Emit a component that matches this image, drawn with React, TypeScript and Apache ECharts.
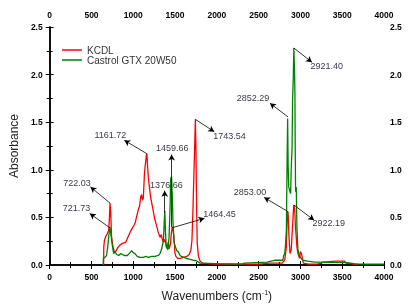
import React, { useEffect, useRef } from "react";
import * as echarts from "echarts";

const xMin = 0;
const xMax = 4000;
const xInterval = 500;
const yMin = 0;
const yMax = 2.5;
const yInterval = 0.5;

const seriesNames = ["KCDL", "Castrol GTX 20W50"];
const seriesColors = ["#ff0000", "#008000"];

const kcdlWavenumbers = [
  645, 647, 655, 670, 690, 705, 715, 722, 730, 740, 755, 765, 780, 795, 812, 830, 855, 880, 910, 930,
  950, 965, 990, 1010, 1025, 1040, 1060, 1075, 1090, 1100, 1110, 1120, 1134, 1150, 1157, 1163, 1170,
  1180, 1195, 1210, 1232, 1255, 1282, 1300, 1320, 1335, 1350, 1365, 1376, 1395, 1405, 1418, 1430,
  1445, 1455, 1467, 1478, 1488, 1498, 1510, 1530, 1560, 1600, 1640, 1670, 1690, 1702, 1714, 1730,
  1743, 1750, 1756, 1765, 1780, 1800, 1830, 1900, 2000, 2300, 2500, 2630, 2780, 2812, 2832, 2843,
  2852, 2863, 2875, 2890, 2905, 2920, 2930, 2941, 2958, 2970, 2990, 3000, 3012, 3022, 3035, 3100,
  3200, 3250, 3270, 3420, 3530, 3545, 3600, 3680,
];
const kcdlAbsorbance = [
  0, 0.19, 0.26, 0.3, 0.33, 0.36, 0.5, 0.65, 0.55, 0.3, 0.2, 0.16, 0.13, 0.15, 0.18, 0.2, 0.22, 0.23,
  0.24, 0.28, 0.32, 0.35, 0.39, 0.42, 0.45, 0.51, 0.58, 0.62, 0.72, 0.74, 0.68, 0.7, 0.97, 1.1, 1.16,
  1.17, 1.05, 0.92, 0.8, 0.7, 0.6, 0.49, 0.4, 0.34, 0.29, 0.32, 0.26, 0.24, 0.27, 0.2, 0.18, 0.24,
  0.17, 0.22, 0.33, 0.4, 0.36, 0.28, 0.13, 0.09, 0.07, 0.07, 0.08, 0.09, 0.11, 0.16, 0.26, 0.58, 1.1,
  1.53, 1.2, 0.72, 0.23, 0.09, 0.04, 0.02, 0.015, 0.01, 0.01, 0.01, 0.02, 0.02, 0.05, 0.19, 0.54,
  0.56, 0.3, 0.12, 0.16, 0.4, 0.63, 0.6, 0.4, 0.19, 0.12, 0.07, 0.14, 0.12, 0.08, 0.02, 0.01, 0.01,
  0.02, 0.03, 0.04, 0.04, 0.02, 0.015, 0.005,
];

const castrolWavenumbers = [
  640, 642, 660, 680, 694, 710, 722, 735, 750, 765, 780, 800, 825, 850, 870, 890, 930, 960, 980, 1000,
  1020, 1047, 1080, 1120, 1150, 1180, 1220, 1260, 1300, 1320, 1340, 1361, 1370, 1377, 1385, 1395,
  1415, 1428, 1440, 1447, 1458, 1468, 1475, 1487, 1505, 1520, 1538, 1560, 1578, 1635, 1715, 1753,
  1780, 1800, 2000, 2300, 2330, 2600, 2700, 2790, 2800, 2812, 2820, 2832, 2840, 2847, 2853, 2860,
  2875, 2883, 2890, 2900, 2906, 2914, 2921, 2930, 2934, 2938, 2942, 2950, 2958, 2970, 2990, 3030,
  3087, 3170, 3200, 3560, 3640, 3700, 4000,
];
const castrolAbsorbance = [
  0, 0.07, 0.08, 0.1, 0.19, 0.33, 0.4, 0.3, 0.2, 0.12, 0.14, 0.11, 0.1, 0.12, 0.11, 0.1, 0.1, 0.13,
  0.15, 0.13, 0.12, 0.09, 0.08, 0.08, 0.09, 0.08, 0.09, 0.09, 0.1, 0.12, 0.17, 0.26, 0.45, 0.57, 0.35,
  0.19, 0.16, 0.29, 0.6, 0.9, 0.93, 0.7, 0.45, 0.24, 0.19, 0.15, 0.14, 0.1, 0.09, 0.07, 0.05, 0.045,
  0.03, 0.02, 0.015, 0.01, 0.02, 0.03, 0.05, 0.05, 0.1, 0.12, 0.19, 0.37, 1.05, 1.54, 1.05, 0.82,
  0.77, 0.75, 1.02, 1.23, 1.74, 1.95, 2.28, 2.03, 1.8, 1.2, 0.77, 0.82, 0.4, 0.16, 0.09, 0.05, 0.04,
  0.03, 0.03, 0.025, 0.015, 0.01, 0.01,
];

// peak annotations: label text, point on the curve, arrow tip, label centre (data coordinates)
const peakLabels = [
  "722.03", "721.73", "1161.72", "1459.66", "1376.66", "1464.45",
  "1743.54", "2852.29", "2921.40", "2853.00", "2922.19",
];
const peakPoints = [
  [722, 0.65], [722, 0.39], [1161, 1.17], [1459, 0.4], [1376, 0.55], [1460, 0.39],
  [1743, 1.53], [2852, 1.555], [2921, 2.28], [2853, 0.56], [2922, 0.63],
];
const arrowTips = [
  [487, 0.82], [479, 0.54], [892, 1.31], [1459, 1.16], [1376, 0.78], [1852, 0.49],
  [1969, 1.4], [2635, 1.7], [3138, 2.13], [2565, 0.71], [3165, 0.47],
];
const labelCentres = [
  [326, 0.86], [320, 0.6], [726, 1.37], [1467, 1.23], [1396, 0.84], [2032, 0.54],
  [2150, 1.35], [2432, 1.755], [3314, 2.09], [2396, 0.77], [3338, 0.445],
];

const FONT = "'Liberation Sans', Arial, sans-serif";

export default function App() {
  const ref = useRef<HTMLDivElement>(null);
  useEffect(() => {
    if (!ref.current) return;
    const chart = echarts.init(ref.current, null, { renderer: "svg" });

    const axisLine = { show: true, lineStyle: { color: "#000", width: 1.5 } };
    const axisTick = { show: true, inside: false, length: 4, lineStyle: { color: "#000", width: 1 } };
    const minorTick = { show: true, splitNumber: 2, length: 3, lineStyle: { color: "#000", width: 1 } };
    const tickLabel = { fontFamily: FONT, fontSize: 8.5, fontWeight: "bold" as const, color: "#000" };

    const xBase = {
      type: "value" as const,
      min: xMin,
      max: xMax,
      interval: xInterval,
      axisLine,
      axisTick,
      minorTick,
      splitLine: { show: false },
      minorSplitLine: { show: false },
    };
    const yBase = {
      type: "value" as const,
      min: yMin,
      max: yMax,
      interval: yInterval,
      axisLine,
      axisTick,
      minorTick,
      splitLine: { show: false },
      minorSplitLine: { show: false },
    };

    const kcdlData = kcdlWavenumbers.map((w, i) => [w, kcdlAbsorbance[i]]);
    const castrolData = castrolWavenumbers.map((w, i) => [w, castrolAbsorbance[i]]);
    const xFmt = (v: number) => String(v);
    const yFmt = (v: number) => v.toFixed(1);

    chart.setOption({
      animation: false,
      grid: { left: 44, right: 27, top: 27, bottom: 42 },
      legend: {
        data: seriesNames,
        orient: "vertical",
        left: 62,
        top: 45,
        padding: 0,
        icon: "rect",
        itemWidth: 20,
        itemHeight: 1.5,
        itemGap: 0,
        textStyle: { fontFamily: FONT, fontSize: 10, color: "#333", lineHeight: 10 },
      },
      xAxis: [
        {
          ...xBase,
          position: "bottom",
          axisLabel: { ...tickLabel, margin: 7, formatter: xFmt },
          name: "{a|Wavenumbers (cm}{s|-1}{a|)}",
          nameLocation: "middle",
          nameGap: 24,
          nameTextStyle: {
            rich: {
              a: { fontFamily: FONT, fontSize: 12, color: "#222" },
              s: { fontFamily: FONT, fontSize: 7, color: "#222", padding: [0, 0, 7, 0] },
            },
          },
        },
        {
          ...xBase,
          position: "top",
          axisLabel: { ...tickLabel, margin: 8, formatter: xFmt },
        },
      ],
      yAxis: [
        {
          ...yBase,
          position: "left",
          axisLabel: { ...tickLabel, margin: 7, formatter: yFmt },
          name: "Absorbance",
          nameLocation: "middle",
          nameGap: 29,
          nameTextStyle: { fontFamily: FONT, fontSize: 12, color: "#222" },
        },
        {
          ...yBase,
          position: "right",
          axisLabel: { ...tickLabel, margin: 6, formatter: yFmt },
        },
      ],
      series: [
        {
          name: seriesNames[0],
          type: "line",
          data: kcdlData,
          symbol: "none",
          lineStyle: { color: seriesColors[0], width: 1.3 },
          itemStyle: { color: seriesColors[0] },
          z: 2,
        },
        {
          name: seriesNames[1],
          type: "line",
          data: castrolData,
          symbol: "none",
          lineStyle: { color: seriesColors[1], width: 1.3 },
          itemStyle: { color: seriesColors[1] },
          z: 3,
        },
        {
          name: "annotations",
          type: "line",
          data: [],
          z: 5,
          markLine: {
            silent: true,
            symbol: ["none", "arrow"],
            symbolSize: [5, 6],
            lineStyle: { color: "#000", width: 0.8, type: "solid" },
            label: { show: false },
            data: peakPoints.map((p, i) => [{ coord: p }, { coord: arrowTips[i] }]),
          },
          markPoint: {
            silent: true,
            symbol: "circle",
            symbolSize: 0,
            itemStyle: { color: "transparent" },
            label: {
              show: true,
              position: "inside",
              fontFamily: FONT,
              fontSize: 9,
              color: "#3a3a4a",
              formatter: (p: any) => p.name,
            },
            data: labelCentres.map((c, i) => ({ name: peakLabels[i], coord: c })),
          },
        },
      ],
    });
    return () => chart.dispose();
  }, []);
  return <div ref={ref} style={{ position: "fixed", left: 0, top: 0, width: 411, height: 307 }} />;
}
